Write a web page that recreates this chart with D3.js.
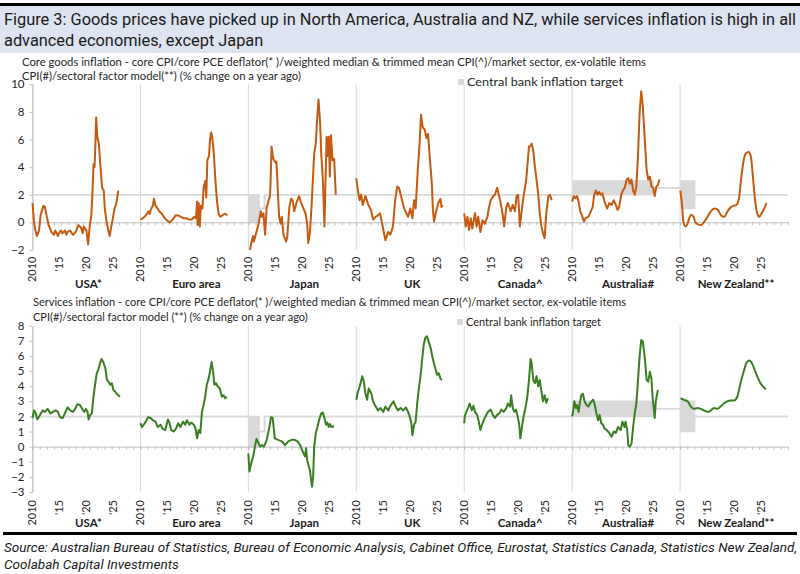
<!DOCTYPE html>
<html>
<head>
<meta charset="utf-8">
<script src="https://cdn.jsdelivr.net/npm/d3@7"></script>
<style>
  body { margin: 0; background: #fff; }
</style>
</head>
<body>
<svg id="vis"></svg>
<script>
const WIDTH = 800;
const HEIGHT = 574;

// ---- datos ----
const PANELS = ["USA*", "Euro area", "Japan", "UK", "Canada^", "Australia#", "New Zealand**"];
const YEAR_TICKS = [2010, 2015, 2020, 2025];
const YEAR_LABELS = ["2010", "'15", "'20", "'25"];
const GOODS_TICKS = [-2, 0, 2, 4, 6, 8, 10];
const SERVICES_TICKS = [-3, -2, -1, 0, 1, 2, 3, 4, 5, 6, 7, 8];

const TITLE = [
  "Figure 3: Goods prices have picked up in North America, Australia and NZ, while services inflation is high in all",
  "advanced economies, except Japan",
];
const GOODS_SUB = [
  "Core goods inflation - core CPI/core PCE deflator(* )/weighted median & trimmed mean CPI(^)/market sector, ex-volatile items",
  "CPI(#)/sectoral factor model(**) (% change on a year ago)",
];
const SERVICES_SUB = [
  "Services inflation - core CPI/core PCE deflator(* )/weighted median & trimmed mean CPI(^)/market sector, ex-volatile items",
  "CPI(#)/sectoral factor model (**) (% change on a year ago)",
];
const LEGEND_LABEL = "Central bank inflation target";
const SOURCE = [
  "Source: Australian Bureau of Statistics, Bureau of Economic Analysis, Cabinet Office, Eurostat, Statistics Canada, Statistics New Zealand,",
  "Coolabah Capital Investments",
];

// metas de inflación: [año, mínimo, máximo] (escalón)
const targetUSA = [[2010, 2, 2], [2030, 2, 2]];
const targetEuro = [[2010, 2, 2], [2030, 2, 2]];
const targetJapan = [[2010, 0, 2], [2012, 1, 1], [2013, 2, 2], [2030, 2, 2]];
const targetUK = [[2010, 2, 2], [2030, 2, 2]];
const targetCanada = [[2010, 2, 2], [2030, 2, 2]];
const targetAustralia = [[2010, 2, 3], [2025, 2.5, 2.5], [2030, 2.5, 2.5]];
const targetNZ = [[2010, 1, 3], [2012.7, 2, 2], [2030, 2, 2]];

// inflación de bienes [año, %]
const goodsUSA = [[2010.0,1.4],[2010.3,0.0],[2010.5,-0.5],[2010.8,-1.0],[2011.0,-0.8],[2011.2,-0.6],[2011.5,0.5],[2011.8,0.9],[2012.0,1.2],[2012.3,1.1],[2012.6,0.5],[2013.0,-0.2],[2013.5,-0.7],[2014.0,-0.9],[2014.2,-0.6],[2014.5,-0.8],[2014.7,-1.0],[2015.0,-0.7],[2015.3,-0.6],[2015.5,-0.8],[2016.0,-0.6],[2016.3,-0.9],[2016.5,-0.7],[2017.0,-0.6],[2017.3,-0.8],[2017.5,-0.9],[2018.0,-0.7],[2018.3,-0.4],[2018.5,-0.2],[2019.0,-0.4],[2019.3,-0.8],[2019.5,-0.3],[2020.0,-0.6],[2020.3,-1.6],[2020.6,-0.3],[2020.9,0.5],[2021.1,2.0],[2021.3,4.2],[2021.5,4.0],[2021.6,5.0],[2021.8,7.6],[2022.0,6.2],[2022.3,5.7],[2022.6,4.0],[2022.9,2.5],[2023.2,2.3],[2023.4,1.0],[2023.7,0.1],[2024.0,-0.5],[2024.3,-1.0],[2024.6,-0.3],[2024.9,0.3],[2025.2,1.0],[2025.5,1.3],[2025.9,2.3]];
const goodsEuro = [[2010.0,0.2],[2010.5,0.3],[2011.0,0.5],[2011.5,0.8],[2011.7,0.6],[2012.0,1.0],[2012.3,1.2],[2012.5,1.7],[2012.8,1.2],[2013.0,1.1],[2013.5,0.8],[2014.0,0.6],[2014.5,0.3],[2015.0,0.1],[2015.4,0.0],[2016.0,0.2],[2016.5,0.5],[2017.0,0.5],[2017.5,0.4],[2018.0,0.3],[2018.5,0.3],[2019.0,0.2],[2019.5,0.2],[2020.0,0.4],[2020.3,0.3],[2020.5,1.5],[2020.6,-0.2],[2020.8,1.4],[2021.0,-0.3],[2021.2,1.2],[2021.5,1.0],[2021.7,2.5],[2022.0,3.0],[2022.2,1.8],[2022.4,4.5],[2022.7,4.8],[2022.9,6.0],[2023.1,6.5],[2023.3,6.2],[2023.6,5.0],[2023.9,3.0],[2024.2,1.5],[2024.5,0.6],[2024.8,0.4],[2025.2,0.5],[2025.5,0.6],[2025.8,0.6],[2026.1,0.5]];
const goodsJapan = [[2010.3,-2.0],[2010.6,-1.4],[2010.9,-1.0],[2011.0,-1.4],[2011.5,-0.7],[2011.9,-0.1],[2012.3,0.8],[2012.5,0.4],[2012.8,0.65],[2013.1,-0.9],[2013.4,1.1],[2013.7,1.5],[2014.0,1.9],[2014.1,2.7],[2014.3,5.5],[2014.6,4.6],[2015.1,4.3],[2015.2,4.4],[2015.7,0.4],[2016.0,-0.1],[2016.2,0.4],[2016.5,-0.9],[2017.0,-1.4],[2017.2,-1.1],[2017.6,1.1],[2017.9,1.7],[2018.2,1.6],[2018.5,0.8],[2018.9,1.4],[2019.4,1.9],[2019.7,1.5],[2020.2,1.0],[2020.6,0.65],[2020.9,-0.1],[2021.1,-1.5],[2021.4,-0.8],[2021.7,1.1],[2022.2,5.0],[2022.5,5.7],[2022.7,7.2],[2023.0,8.9],[2023.3,7.2],[2023.5,5.0],[2023.8,3.1],[2024.1,-0.3],[2024.3,3.1],[2024.5,6.2],[2024.7,4.8],[2024.9,6.2],[2025.1,3.3],[2025.3,6.3],[2025.6,4.5],[2025.9,4.6],[2026.2,2.0]];
const goodsUK = [[2010.0,3.2],[2010.3,2.3],[2010.6,1.6],[2010.9,2.0],[2011.2,1.25],[2011.7,1.9],[2012.2,1.3],[2012.7,0.9],[2013.1,0.2],[2013.6,0.4],[2014.0,0.5],[2014.4,0.65],[2014.9,-0.3],[2015.4,-1.3],[2015.9,-0.7],[2016.3,-0.9],[2016.8,-0.3],[2017.2,1.6],[2017.6,2.6],[2017.9,2.5],[2018.3,1.9],[2018.8,1.1],[2019.1,0.8],[2019.6,0.4],[2020.0,1.0],[2020.4,0.3],[2020.7,1.6],[2021.0,1.0],[2021.4,3.8],[2021.7,5.5],[2022.0,7.8],[2022.3,6.9],[2022.7,6.7],[2023.0,6.1],[2023.3,6.4],[2023.6,4.8],[2024.0,2.8],[2024.2,0.9],[2024.4,0.05],[2024.8,0.8],[2025.2,1.4],[2025.6,1.7],[2025.8,1.1],[2026.0,1.25]];
const goodsCanada = [[2010.0,0.65],[2010.3,-0.3],[2010.6,0.4],[2010.9,-0.55],[2011.2,0.3],[2011.5,-0.45],[2012.0,0.65],[2012.3,-0.3],[2012.6,0.4],[2013.0,-0.7],[2013.4,0.15],[2013.8,-0.1],[2014.3,0.4],[2014.6,1.1],[2014.9,1.6],[2015.4,1.9],[2015.7,2.0],[2016.1,2.5],[2016.4,2.0],[2016.7,1.5],[2017.1,0.65],[2017.4,-0.3],[2017.8,1.1],[2018.1,1.4],[2018.6,0.8],[2019.0,1.25],[2019.4,0.8],[2019.7,1.9],[2020.0,2.0],[2020.3,-0.3],[2020.6,0.65],[2020.9,1.6],[2021.5,3.1],[2022.0,5.5],[2022.2,5.5],[2022.5,5.7],[2022.8,5.2],[2023.1,4.0],[2023.4,3.1],[2023.7,2.1],[2024.0,0.65],[2024.3,-0.3],[2024.6,-0.8],[2024.9,-1.15],[2025.2,0.65],[2025.6,1.9],[2025.9,2.0],[2026.2,1.6]];
const goodsAustralia = [[2010.0,1.5],[2010.3,1.9],[2010.6,1.75],[2010.9,1.9],[2011.2,1.5],[2011.5,0.8],[2011.9,0.4],[2012.2,0.05],[2012.5,0.3],[2013.0,0.4],[2013.3,0.65],[2013.8,1.1],[2014.1,2.0],[2014.4,2.3],[2014.7,2.0],[2015.0,2.2],[2015.3,2.0],[2015.6,2.1],[2016.0,1.5],[2016.5,1.0],[2016.9,1.4],[2017.3,1.25],[2017.7,1.6],[2018.1,1.25],[2018.4,0.9],[2018.7,1.1],[2019.1,2.0],[2019.4,2.3],[2019.75,2.5],[2020.1,3.1],[2020.4,3.2],[2020.7,2.8],[2021.0,3.1],[2021.3,2.3],[2021.6,2.0],[2021.9,2.6],[2022.2,4.8],[2022.5,7.9],[2022.8,9.5],[2023.1,8.4],[2023.5,5.7],[2023.8,3.8],[2024.1,3.1],[2024.4,3.3],[2024.7,2.6],[2025.0,2.5],[2025.3,1.9],[2025.6,2.6],[2025.9,2.7],[2026.2,3.1]];
const goodsNZ = [[2010.05,2.3],[2010.4,1.1],[2010.6,0.05],[2011.0,-0.3],[2011.4,-0.1],[2011.7,0.3],[2012.1,0.55],[2012.5,0.4],[2012.8,0.05],[2013.3,-0.15],[2013.9,-0.2],[2014.5,0.05],[2015.1,0.4],[2015.7,0.8],[2016.4,1.0],[2017.0,0.9],[2017.6,0.5],[2018.2,0.4],[2018.8,0.8],[2019.4,1.1],[2019.9,1.2],[2020.4,1.25],[2020.9,1.7],[2021.3,3.1],[2021.7,4.3],[2022.2,5.0],[2022.7,5.1],[2023.1,4.8],[2023.5,3.3],[2023.9,1.6],[2024.3,0.65],[2024.7,0.4],[2025.1,0.65],[2025.6,1.0],[2026.0,1.4]];

// inflación de servicios [año, %]
const servicesUSA = [[2010.0,1.9],[2010.3,2.4],[2010.6,2.2],[2010.9,1.8],[2011.4,2.1],[2011.9,2.4],[2012.3,2.3],[2012.8,2.5],[2013.3,2.2],[2013.8,2.3],[2014.3,2.4],[2014.7,2.3],[2015.1,1.95],[2015.6,1.9],[2016.0,2.2],[2016.5,2.6],[2017.0,2.4],[2017.5,2.3],[2017.9,2.5],[2018.3,2.8],[2018.8,2.75],[2019.2,2.5],[2019.6,2.3],[2019.9,2.5],[2020.2,2.3],[2020.4,1.8],[2020.7,2.1],[2021.0,2.2],[2021.3,3.3],[2021.6,4.1],[2021.9,4.85],[2022.2,5.1],[2022.5,5.5],[2022.8,5.8],[2023.1,5.6],[2023.5,5.2],[2023.8,4.4],[2024.1,4.3],[2024.4,4.1],[2024.7,4.2],[2025.0,3.75],[2025.3,3.65],[2025.6,3.5],[2025.9,3.4],[2026.2,3.3]];
const servicesEuro = [[2010.0,1.55],[2010.3,1.3],[2010.6,1.45],[2011.0,1.65],[2011.4,1.95],[2011.9,1.9],[2012.3,1.75],[2012.8,1.65],[2013.2,1.3],[2013.7,1.45],[2014.1,1.2],[2014.6,1.1],[2015.1,1.8],[2015.4,1.55],[2015.7,1.1],[2016.2,1.0],[2016.6,1.2],[2017.0,1.55],[2017.4,1.3],[2017.9,1.65],[2018.3,1.45],[2018.6,1.75],[2019.1,1.45],[2019.4,1.6],[2019.9,1.45],[2020.2,1.2],[2020.5,0.55],[2020.8,1.1],[2021.1,0.9],[2021.4,2.3],[2021.7,2.75],[2022.0,3.3],[2022.3,4.1],[2022.7,4.6],[2023.0,5.2],[2023.2,5.6],[2023.5,4.85],[2023.7,4.1],[2024.0,4.2],[2024.3,4.0],[2024.7,3.85],[2025.1,3.3],[2025.4,3.4],[2025.7,3.2],[2026.0,3.3]];
const servicesJapan = [[2010.0,-0.45],[2010.2,-1.65],[2010.4,-1.3],[2010.6,-1.0],[2010.9,-0.65],[2011.2,0.0],[2011.5,0.5],[2011.8,0.3],[2012.2,0.0],[2012.5,0.1],[2012.9,0.0],[2013.4,0.45],[2013.9,1.3],[2014.2,1.95],[2014.5,1.9],[2014.75,1.1],[2014.9,0.55],[2015.5,0.45],[2016.2,0.35],[2016.8,0.1],[2017.4,0.35],[2018.0,0.45],[2018.6,0.45],[2019.1,0.35],[2019.6,0.1],[2020.1,-0.35],[2020.5,-0.65],[2020.7,-0.1],[2020.9,-0.9],[2021.2,-1.3],[2021.4,-1.55],[2021.6,-2.1],[2021.8,-2.65],[2022.0,-2.0],[2022.2,0.0],[2022.5,0.9],[2022.8,1.3],[2023.1,1.75],[2023.5,2.2],[2023.8,2.25],[2024.1,1.9],[2024.4,1.45],[2024.6,1.6],[2024.9,1.3],[2025.1,1.5],[2025.4,1.3],[2025.9,1.35]];
const servicesUK = [[2010.0,3.1],[2010.2,3.5],[2010.6,3.95],[2010.8,4.2],[2011.1,4.65],[2011.4,4.3],[2011.7,3.5],[2012.0,3.1],[2012.3,3.85],[2012.8,3.5],[2013.1,3.0],[2013.6,2.65],[2014.0,2.4],[2014.5,2.55],[2015.0,2.3],[2015.4,2.65],[2015.9,2.4],[2016.4,2.75],[2016.9,3.0],[2017.3,2.65],[2017.7,2.4],[2018.2,2.55],[2018.7,2.4],[2019.2,2.6],[2019.6,2.3],[2019.9,2.0],[2020.2,1.55],[2020.4,0.75],[2020.7,1.45],[2021.0,1.65],[2021.3,2.9],[2021.6,3.85],[2021.9,4.65],[2022.2,5.75],[2022.5,6.75],[2022.8,7.2],[2023.1,7.3],[2023.5,6.85],[2023.8,6.5],[2024.1,5.95],[2024.4,5.5],[2024.7,5.1],[2025.0,4.75],[2025.3,4.85],[2025.6,4.5],[2025.9,4.4]];
const servicesCanada = [[2010.0,1.55],[2010.1,2.0],[2010.4,2.3],[2010.7,2.55],[2011.0,2.85],[2011.4,2.4],[2011.7,2.7],[2012.0,2.3],[2012.4,2.1],[2012.7,1.65],[2013.0,1.1],[2013.3,1.45],[2013.6,1.75],[2014.1,2.1],[2014.4,2.3],[2014.9,2.45],[2015.3,2.1],[2015.7,1.9],[2016.1,2.1],[2016.5,2.2],[2016.9,2.45],[2017.3,2.3],[2017.8,2.55],[2018.1,2.85],[2018.5,2.65],[2018.7,3.4],[2019.0,2.55],[2019.3,2.3],[2019.6,2.45],[2019.9,2.0],[2020.2,1.45],[2020.4,0.55],[2020.7,1.3],[2021.0,2.0],[2021.4,2.65],[2021.7,3.3],[2022.0,4.4],[2022.3,5.8],[2022.5,5.5],[2022.8,4.4],[2023.1,4.2],[2023.4,4.65],[2023.7,4.0],[2024.0,4.4],[2024.3,3.65],[2024.6,3.0],[2024.9,3.4],[2025.2,2.9],[2025.5,3.2]];
const servicesAustralia = [[2010.0,2.0],[2010.2,2.4],[2010.4,3.0],[2010.7,2.55],[2010.9,2.75],[2011.2,2.3],[2011.4,2.85],[2011.7,3.4],[2012.0,3.5],[2012.3,3.0],[2012.65,2.75],[2013.0,2.65],[2013.3,2.85],[2013.6,3.0],[2013.9,3.1],[2014.2,2.75],[2014.5,2.2],[2014.8,1.75],[2015.1,2.1],[2015.4,1.55],[2015.7,1.45],[2016.0,1.2],[2016.4,1.1],[2016.9,0.9],[2017.3,0.65],[2017.7,1.0],[2018.1,0.9],[2018.5,1.3],[2019.0,1.1],[2019.3,1.65],[2019.7,1.3],[2019.9,1.65],[2020.2,1.1],[2020.4,0.1],[2020.7,0.0],[2021.0,0.2],[2021.3,1.3],[2021.6,2.2],[2021.9,2.85],[2022.2,4.4],[2022.5,5.95],[2022.8,7.05],[2023.1,6.95],[2023.5,5.75],[2023.8,4.4],[2024.1,4.3],[2024.4,4.95],[2024.7,4.5],[2024.9,3.3],[2025.1,2.65],[2025.3,1.9],[2025.5,3.0],[2025.7,3.4],[2025.9,3.75]];
const servicesNZ = [[2010.1,3.2],[2010.7,3.1],[2011.4,3.0],[2012.0,2.65],[2012.6,2.5],[2013.2,2.55],[2013.8,2.5],[2014.4,2.4],[2015.1,2.3],[2015.7,2.4],[2016.3,2.55],[2016.9,2.5],[2017.5,2.65],[2018.1,2.85],[2018.8,3.0],[2019.4,3.05],[2020.0,3.05],[2020.6,3.3],[2021.2,4.2],[2021.9,5.1],[2022.3,5.55],[2022.8,5.7],[2023.2,5.6],[2023.7,5.2],[2024.3,4.65],[2024.9,4.2],[2025.6,3.9],[2025.9,3.8]];

const TARGETS = [targetUSA, targetEuro, targetJapan, targetUK, targetCanada, targetAustralia, targetNZ];
const GOODS = [goodsUSA, goodsEuro, goodsJapan, goodsUK, goodsCanada, goodsAustralia, goodsNZ];
const SERVICES = [servicesUSA, servicesEuro, servicesJapan, servicesUK, servicesCanada, servicesAustralia, servicesNZ];

// ---- layout ----
const FONT = "Lato, 'Open Sans', sans-serif";
const GRID = "#d9d9d9";
const AXIS = "#bfbfbf";
const TEXT = "#262626";

const svg = d3.select("#vis").attr("width", WIDTH).attr("height", HEIGHT);

const xPanel = d3.scaleBand().domain(PANELS).range([32.5, 788]);
const xYear = d3.scaleLinear().domain([2010, 2030]).range([0, xPanel.bandwidth()]);
const px = (panel, year) => xPanel(panel) + xYear(year);

// texto en varias líneas, ajustado al ancho de la primera
function textBlock(lines, x, y, lineH, width, size, family, opts = {}) {
  const nodes = lines.map((t, i) =>
    svg
      .append("text")
      .attr("x", x)
      .attr("y", y + i * lineH)
      .attr("font-family", family)
      .attr("font-size", size)
      .attr("font-style", opts.italic ? "italic" : null)
      .attr("fill", opts.fill || TEXT)
      .text(t)
  );
  const ratio = width / nodes[0].node().getComputedTextLength();
  nodes.forEach((n) => {
    const w = n.node().getComputedTextLength() * ratio;
    n.attr("textLength", w).attr("lengthAdjust", "spacingAndGlyphs");
  });
}

// encabezado
svg.append("rect").attr("x", 0).attr("y", 6).attr("width", WIDTH).attr("height", 47).attr("fill", "#dde3f1");
svg.append("rect").attr("x", 0).attr("y", 3).attr("width", WIDTH).attr("height", 3).attr("fill", "#000");
textBlock(TITLE, 4, 25, 21, 792, "16px", "Roboto, sans-serif", { fill: "#1a1a1a" });

function drawPanel(cfg) {
  const y = d3.scaleLinear().domain(cfg.domain).range(cfg.range);
  const g = svg.append("g");

  // separadores verticales
  g.selectAll("line.sep")
    .data(PANELS)
    .join("line")
    .attr("class", "sep")
    .attr("x1", (p) => xPanel(p))
    .attr("x2", (p) => xPanel(p))
    .attr("y1", y(cfg.domain[1]))
    .attr("y2", y(cfg.domain[0]))
    .attr("stroke", GRID)
    .attr("stroke-width", 1);

  // banda meta
  PANELS.forEach((p, i) => {
    const area = d3
      .area()
      .curve(d3.curveStepAfter)
      .x((d) => px(p, d[0]))
      .y0((d) => y(d[1]))
      .y1((d) => y(d[2]));
    g.append("path").attr("d", area(TARGETS[i])).attr("fill", GRID);
    [1, 2].forEach((k) => {
      const ln = d3.line().curve(d3.curveStepAfter).x((d) => px(p, d[0])).y((d) => y(d[k]));
      g.append("path").attr("d", ln(TARGETS[i])).attr("fill", "none").attr("stroke", GRID).attr("stroke-width", 1.5);
    });
  });

  // eje y
  const ejeY = g
    .append("g")
    .attr("transform", `translate(${xPanel.range()[0]},0)`)
    .call(d3.axisLeft(y).tickValues(cfg.ticks).tickSize(3).tickPadding(5).tickSizeOuter(0));
  ejeY.select(".domain").attr("stroke", AXIS);
  ejeY.selectAll(".tick line").attr("stroke", AXIS);
  ejeY.selectAll(".tick text").attr("font-family", FONT).attr("font-size", "11.5px").attr("fill", TEXT);

  // línea cero con marcas
  PANELS.forEach((p) => {
    const ejeX = g
      .append("g")
      .attr("transform", `translate(${xPanel(p)},${y(0)})`)
      .call(
        d3.axisBottom(xYear)
          .tickValues(d3.range(16).map((k) => 2010 + (k * 16) / 12))
          .tickSize(3)
          .tickSizeOuter(0)
          .tickFormat("")
      );
    ejeX.select(".domain").attr("stroke", AXIS);
    ejeX.selectAll(".tick line").attr("stroke", AXIS);
  });

  // etiquetas de años (rotadas)
  PANELS.forEach((p) => {
    g.selectAll(null)
      .data(YEAR_TICKS)
      .join("text")
      .attr("transform", (d) => `translate(${px(p, d)},${cfg.labelTop}) rotate(-90)`)
      .attr("text-anchor", "end")
      .attr("dy", "0.35em")
      .attr("font-family", FONT)
      .attr("font-size", "11px")
      .attr("fill", TEXT)
      .text((d, i) => YEAR_LABELS[i]);
  });

  // países
  g.selectAll("text.pais")
    .data(PANELS)
    .join("text")
    .attr("class", "pais")
    .attr("x", (p) => xPanel(p) + xPanel.bandwidth() / 2 + 2)
    .attr("y", cfg.countryY)
    .attr("text-anchor", "middle")
    .attr("font-family", FONT)
    .attr("font-weight", "bold")
    .attr("font-size", "11.5px")
    .attr("fill", "#1a1a1a")
    .text((p) => p);

  // series
  PANELS.forEach((p, i) => {
    const linea = d3
      .line()
      .curve(p === "New Zealand**" ? d3.curveMonotoneX : d3.curveLinear)
      .x((d) => px(p, d[0]))
      .y((d) => y(d[1]));
    g.append("path")
      .attr("d", linea(cfg.series[i]))
      .attr("fill", "none")
      .attr("stroke", cfg.color)
      .attr("stroke-width", 2)
      .attr("stroke-linejoin", "round");
  });

  // leyenda
  svg.append("rect")
    .attr("x", cfg.legend[0] - 9)
    .attr("y", cfg.legend[1] - 7)
    .attr("width", 6)
    .attr("height", 6)
    .attr("fill", GRID);
  textBlock([LEGEND_LABEL], cfg.legend[0], cfg.legend[1], 0, cfg.legend[2], cfg.fontSize, FONT);

  textBlock(cfg.sub, cfg.subPos[0], cfg.subPos[1], cfg.subPos[2], cfg.subPos[3], cfg.fontSize, FONT);
}

drawPanel({
  domain: [-2, 10],
  range: [249.9, 84.3],
  ticks: GOODS_TICKS,
  series: GOODS,
  color: "#c55a11",
  labelTop: 256.5,
  countryY: 288,
  legend: [467, 86, 156],
  sub: GOODS_SUB,
  subPos: [22, 66, 13.5, 624],
  fontSize: "11.5px",
});

drawPanel({
  domain: [-3, 8],
  range: [492, 325.7],
  ticks: SERVICES_TICKS,
  series: SERVICES,
  color: "#3b7d23",
  labelTop: 500,
  countryY: 527,
  legend: [466, 326, 135],
  sub: SERVICES_SUB,
  subPos: [33, 306, 15, 593],
  fontSize: "11px",
});

// pie
svg.append("rect").attr("x", 3).attr("y", 532).attr("width", 794).attr("height", 3).attr("fill", "#000");
textBlock(SOURCE, 4, 552, 17, 793, "13px", "Roboto, sans-serif", { italic: true, fill: "#1a1a1a" });
</script>
</body>
</html>
